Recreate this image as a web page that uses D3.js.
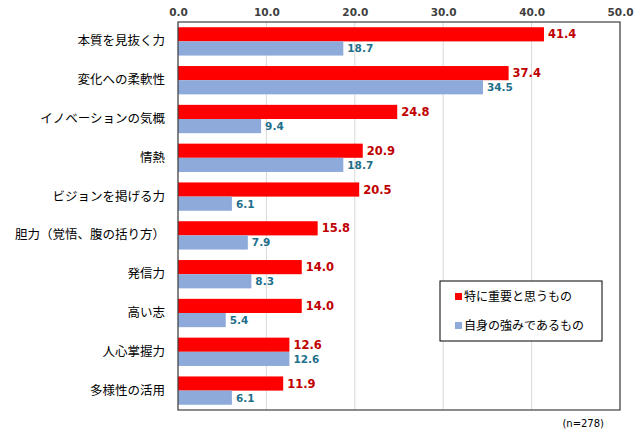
<!DOCTYPE html>
<html><head><meta charset="utf-8">
<script src="https://cdn.jsdelivr.net/npm/d3@7"></script>
<style>body{margin:0;background:#fff}</style>
</head><body>
<svg id="chart" width="643" height="445"></svg>
<script>
// categories and values
var categories = ["本質を見抜く力","変化への柔軟性","イノベーションの気概","情熱","ビジョンを掲げる力","胆力（覚悟、腹の括り方）","発信力","高い志","人心掌握力","多様性の活用"];
var important = [41.4,37.4,24.8,20.9,20.5,15.8,14.0,14.0,12.6,11.9];
var strength = [18.7,34.5,9.4,18.7,6.1,7.9,8.3,5.4,12.6,6.1];
var seriesNames = ["特に重要と思うもの","自身の強みであるもの"];
var ticks = [0,10,20,30,40,50];

var svg = d3.select("#chart");
// note: "top" is a reserved window property, so use plot* names
var plotL = 178, plotR = 620, plotT = 22, plotB = 410;
var x = d3.scaleLinear().domain([0,50]).range([plotL,plotR]);
var y = d3.scaleBand().domain(categories).range([plotT,plotB]).paddingInner(0.27).paddingOuter(0.135);
var num = "'DejaVu Sans', Verdana, sans-serif";
var jp = "'Noto Sans CJK JP', sans-serif";

// gridlines
svg.selectAll(".grid").data(ticks).enter().append("line")
    .attr("x1", d => x(d)).attr("x2", d => x(d))
    .attr("y1", plotT).attr("y2", plotB)
    .attr("stroke", "#d9d9d9");

// top axis
var axis = svg.append("g").attr("transform", "translate(0," + plotT + ")")
    .call(d3.axisTop(x).tickValues(ticks).tickFormat(d3.format(".1f")).tickSize(0).tickPadding(6));
axis.select(".domain").remove();
axis.selectAll("text").attr("font-family", num).attr("font-size", 10.5).attr("font-weight", "bold").attr("fill", "#404040");

var bh = y.bandwidth() / 2;
var g = svg.selectAll(".cat").data(categories).enter().append("g")
    .attr("transform", d => "translate(0," + y(d) + ")");

g.append("rect").attr("x", x(0)).attr("y", 0).attr("height", bh)
    .attr("width", (d,i) => x(important[i]) - x(0)).attr("fill", "#ff0000");
g.append("rect").attr("x", x(0)).attr("y", bh).attr("height", bh)
    .attr("width", (d,i) => x(strength[i]) - x(0)).attr("fill", "#8eaadb");

g.append("text").attr("x", (d,i) => x(important[i]) + 4).attr("y", bh/2 + 4)
    .text((d,i) => important[i].toFixed(1))
    .attr("font-family", num).attr("font-size", 11.5).attr("font-weight", "bold").attr("fill", "#c00000");
g.append("text").attr("x", (d,i) => x(strength[i]) + 4).attr("y", bh*1.5 + 4)
    .text((d,i) => strength[i].toFixed(1))
    .attr("font-family", num).attr("font-size", 10.5).attr("font-weight", "bold").attr("fill", "#1f6f8b");

g.append("text").attr("x", 165).attr("y", bh + 4).attr("text-anchor", "end")
    .text(d => d).attr("font-family", jp).attr("font-size", 12.5).attr("fill", "#000");

// frame
svg.append("rect").attr("x", plotL).attr("y", plotT).attr("width", plotR-plotL).attr("height", plotB-plotT)
    .attr("fill", "none").attr("stroke", "#404040").attr("stroke-width", 1.2);

// legend
var lg = svg.append("g").attr("transform", "translate(440,281)");
lg.append("rect").attr("width", 162).attr("height", 60).attr("fill", "#fff").attr("stroke", "#000");
["#ff0000","#8eaadb"].forEach(function(c, i) {
    lg.append("rect").attr("x", 15).attr("y", 12 + i*29).attr("width", 7).attr("height", 7).attr("fill", c);
    lg.append("text").attr("x", 24).attr("y", 20 + i*29).text(seriesNames[i])
        .attr("font-family", jp).attr("font-size", 12).attr("fill", "#000");
});

svg.append("text").attr("x", 604).attr("y", 427).attr("text-anchor", "end").text("(n=278)")
    .attr("font-family", num).attr("font-size", 10).attr("fill", "#000");
</script>
</body></html>
